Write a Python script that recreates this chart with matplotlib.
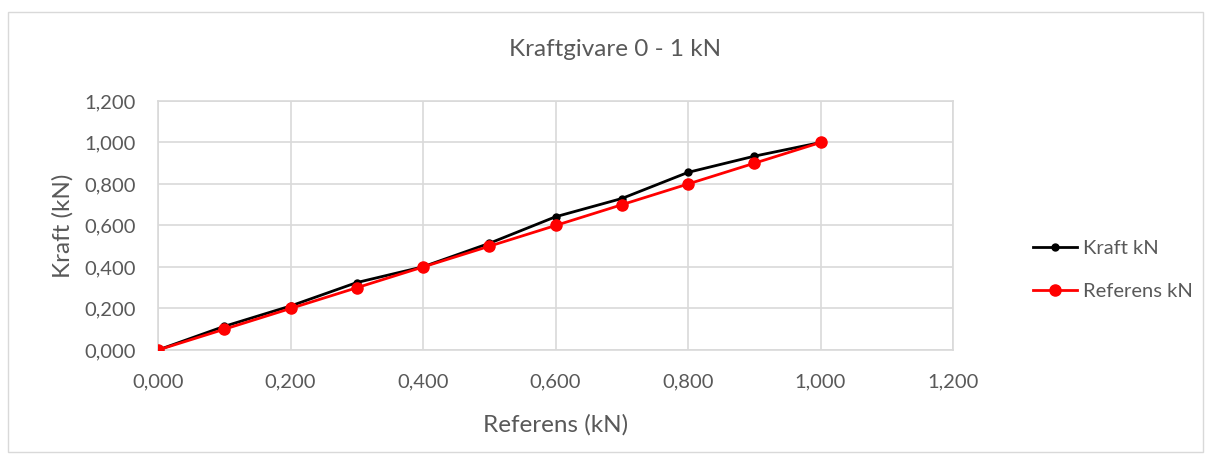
import matplotlib
matplotlib.use("Agg")
import matplotlib.pyplot as plt
from matplotlib.ticker import FuncFormatter, MultipleLocator
from matplotlib.patches import Rectangle

referens = [0.0, 0.1, 0.2, 0.3, 0.4, 0.5, 0.6, 0.7, 0.8, 0.9, 1.0]
kraft = [0.0, 0.114, 0.212, 0.325, 0.401, 0.514, 0.642, 0.730, 0.856, 0.934, 1.0]
referens_y = [0.0, 0.1, 0.2, 0.3, 0.4, 0.5, 0.6, 0.7, 0.8, 0.9, 1.0]

plt.rcParams['font.family'] = ['Lato', 'DejaVu Sans']
txt = '#595959'
grid = '#d9d9d9'

fig = plt.figure(figsize=(12.11, 4.61), dpi=100)
W, H = 1211, 461
ax = fig.add_axes([158 / W, 1 - 350 / H, (953 - 158) / W, (350 - 101) / H])

ax.plot(referens, kraft, color='black', lw=2, marker='o', ms=5, label='Kraft kN', zorder=3)
ax.plot(referens, referens_y, color='#ff0000', lw=2, marker='o', ms=8, label='Referens kN', zorder=4)

ax.set_xlim(0, 1.2)
ax.set_ylim(0, 1.2)
ax.xaxis.set_major_locator(MultipleLocator(0.2))
ax.yaxis.set_major_locator(MultipleLocator(0.2))
fmt = FuncFormatter(lambda v, p: f"{v:.3f}".replace('.', ','))
ax.xaxis.set_major_formatter(fmt)
ax.yaxis.set_major_formatter(fmt)
ax.grid(True, color=grid, lw=1.2)
ax.set_axisbelow(True)
for s in ax.spines.values():
    s.set_color(grid)
    s.set_linewidth(1.2)
ax.tick_params(length=0, labelsize=14.5, colors=txt)
ax.tick_params(axis='x', pad=17)
ax.tick_params(axis='y', pad=16)
for lab in ax.get_xticklabels() + ax.get_yticklabels():
    lab.set_color(txt)

ax.set_xlabel('Referens (kN)', fontsize=17.5, color=txt, labelpad=17)
ax.set_ylabel('Kraft (kN)', fontsize=17.5, color=txt, labelpad=8)
fig.text(615 / W, 1 - 50 / H, 'Kraftgivare 0 - 1 kN', ha='center', va='center', fontsize=17.5, color=txt)

leg = fig.legend(loc='center left', bbox_to_anchor=(1015 / W, 1 - 270 / H), frameon=False,
                 fontsize=14.5, labelspacing=1.25, handlelength=2.2, handletextpad=0.3)
for t in leg.get_texts():
    t.set_color(txt)

fig.patches.append(Rectangle((8 / W, 1 - 452 / H), (1203 - 8) / W, (452 - 12) / H,
                             transform=fig.transFigure, fill=False, edgecolor=grid, lw=1))

fig.savefig('out.png', dpi=100)
